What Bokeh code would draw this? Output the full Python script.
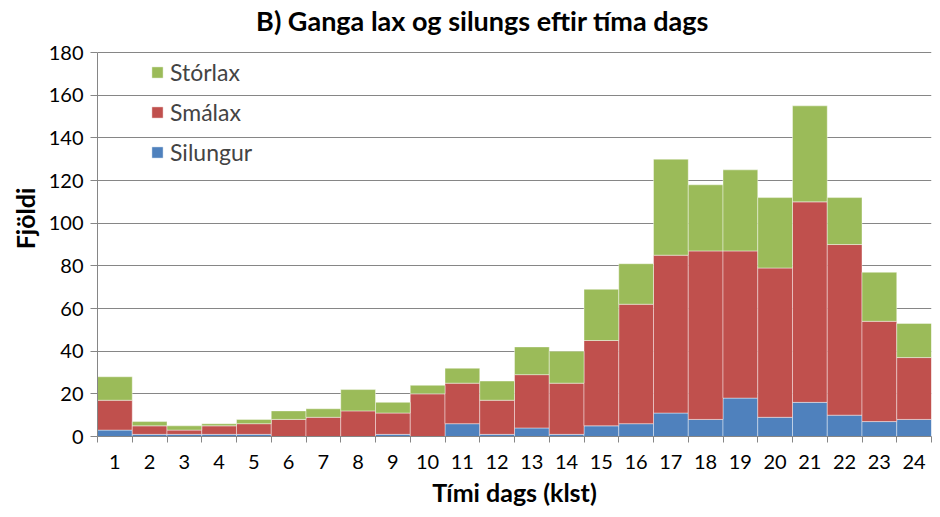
from bokeh.plotting import figure
from bokeh.models import (ColumnDataSource, FixedTicker, Legend, LegendItem, Range1d, Label)
from bokeh.embed import file_html
from bokeh.resources import INLINE

hours = list(range(1, 25))
tick_labels = [str(h) for h in hours]
silungur = [3, 1, 1, 1, 1, 0, 0, 0, 1, 0, 6, 1, 4, 1, 5, 6, 11, 8, 18, 9, 16, 10, 7, 8]
smalax = [14, 4, 2, 4, 5, 8, 9, 12, 10, 20, 19, 16, 25, 24, 40, 56, 74, 79, 69, 70, 94, 80, 47, 29]
storlax = [11, 2, 2, 1, 2, 4, 4, 10, 5, 4, 7, 9, 13, 15, 24, 19, 45, 31, 38, 33, 45, 22, 23, 16]

series_names = ["Silungur", "Smálax", "Stórlax"]
colors = ["#4F81BD", "#C0504D", "#9BBB59"]
title_text = "B) Ganga lax og silungs eftir tíma dags"
y_max = 180

FONT = "Lato"

src = ColumnDataSource(dict(x=hours, Silungur=silungur, Smálax=smalax, Stórlax=storlax))

# the frame reaches the top of the canvas; the y axis is bounded to 0..180 so the
# title can sit inside the frame above the axis, as in the reference layout
p = figure(width=932, height=509, output_backend="svg", toolbar_location=None,
           title_location=None,
           x_range=Range1d(0.5, 24.5), y_range=Range1d(0, 204.4),
           min_border_left=97, min_border_right=1, min_border_top=0, min_border_bottom=73)

renderers = p.vbar_stack(series_names, x="x", width=1.0, source=src, fill_color=colors,
                         line_color="white", line_width=0.6, line_alpha=0.7)

title_label = Label(x=11.58, y=195, text=title_text,
                    text_font=FONT, text_font_size="27px", text_font_style="bold",
                    text_color="black", text_align="center", text_baseline="middle")
p.add_layout(title_label)

p.outline_line_color = None
p.xgrid.grid_line_color = None
p.ygrid.grid_line_color = "#868686"
p.ygrid.grid_line_width = 1

p.yaxis.ticker = FixedTicker(ticks=list(range(0, y_max + 1, 20)))
p.yaxis.bounds = (0, y_max)
p.xaxis.ticker = FixedTicker(ticks=hours, minor_ticks=[h + 0.5 for h in range(0, 25)])
p.xaxis.major_label_overrides = {h: lbl for h, lbl in zip(hours, tick_labels)}

for ax in (p.xaxis[0], p.yaxis[0]):
    ax.axis_line_color = "#868686"
    ax.major_label_text_font = FONT
    ax.major_label_text_font_size = "20px"
    ax.major_label_text_color = "black"
    ax.axis_label_text_font = FONT
    ax.axis_label_text_font_size = "25px"
    ax.axis_label_text_font_style = "bold"
    ax.axis_label_text_color = "black"

p.yaxis.major_tick_line_color = "#868686"
p.yaxis.major_tick_out = 7
p.yaxis.major_tick_in = 0
p.yaxis.minor_tick_line_color = None
p.yaxis.major_label_standoff = 7
p.yaxis.axis_label = "Fjöldi"
p.yaxis.axis_label_standoff = 6

p.xaxis.major_tick_line_color = None
p.xaxis.minor_tick_line_color = "#868686"
p.xaxis.minor_tick_out = 6
p.xaxis.minor_tick_in = 0
p.xaxis.major_label_standoff = 12
p.xaxis.axis_label = "Tími dags (klst)"
p.xaxis.axis_label_standoff = 5

items = [LegendItem(label=series_names[i], renderers=[renderers[i]]) for i in (2, 1, 0)]
legend = Legend(items=items, location=(53, 270))
legend.label_text_font = FONT
legend.label_text_font_size = "23px"
legend.glyph_width = 14
legend.glyph_height = 14
legend.label_height = 22
legend.spacing = 12
legend.padding = 0
legend.margin = 0
legend.label_standoff = 6
legend.border_line_color = None
legend.background_fill_alpha = 0
p.add_layout(legend, "center")

open("out.html", "w").write(file_html(p, INLINE))
